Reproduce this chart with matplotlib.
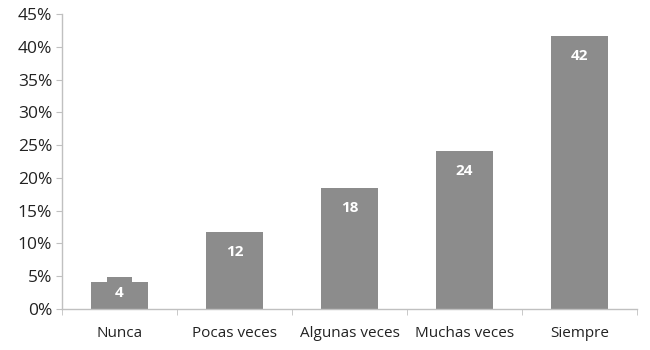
import matplotlib
matplotlib.use("Agg")
import matplotlib.pyplot as plt
from matplotlib.ticker import FuncFormatter, FixedLocator

categories = ["Nunca", "Pocas veces", "Algunas veces", "Muchas veces", "Siempre"]
values = [4.1, 11.7, 18.4, 24.1, 41.6]
labels = ["4", "12", "18", "24", "42"]
yticks = [0, 5, 10, 15, 20, 25, 30, 35, 40, 45]

plt.rcParams['font.family'] = ['Open Sans', 'DejaVu Sans']

fig = plt.figure(figsize=(6.5, 3.5), dpi=100)
ax = fig.add_axes([62/650, 1 - 309/350, 575/650, 295/350])

x = list(range(len(categories)))
bars = ax.bar(x, values, width=0.5, color="#8c8c8c", zorder=2)

for i, (v, lab) in enumerate(zip(values, labels)):
    if i == 0:
        ax.text(i, v - 1.6, lab, ha="center", va="center", color="white",
                fontsize=11, fontweight="bold",
                bbox=dict(boxstyle="square,pad=0.55", fc="#8c8c8c", ec="none"))
    else:
        ax.text(i, v - 3.0, lab, ha="center", va="center", color="white",
                fontsize=11, fontweight="bold")

ax.set_xlim(-0.5, len(categories) - 0.5)
ax.set_ylim(0, 45)
ax.set_yticks(yticks)
ax.yaxis.set_major_formatter(FuncFormatter(lambda v, p: f"{int(v)}%"))
ax.set_xticks(x)
ax.set_xticklabels(categories)
ax.xaxis.set_minor_locator(FixedLocator([i + 0.5 for i in range(-1, len(categories))]))
ax.tick_params(axis="x", which="major", length=0, pad=12, labelsize=11, colors="#222222")
ax.tick_params(axis="x", which="minor", length=4, color="#c0c0c0", direction="out")
ax.tick_params(axis="y", length=4, color="#c0c0c0", labelsize=12.5, labelcolor="#222222", pad=3)

for s in ["top", "right"]:
    ax.spines[s].set_visible(False)
for s in ["left", "bottom"]:
    ax.spines[s].set_color("#c0c0c0")
    ax.spines[s].set_linewidth(1)

fig.savefig("out.png", dpi=100)
